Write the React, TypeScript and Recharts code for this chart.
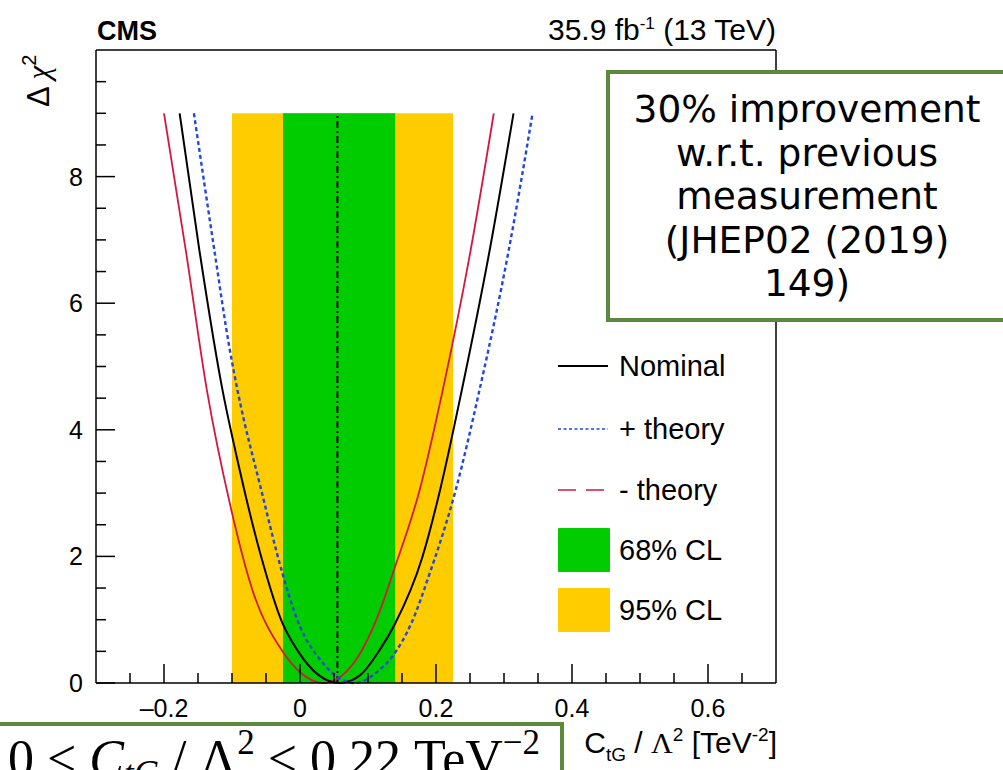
import { LineChart, Line, XAxis, YAxis, ReferenceArea, ReferenceLine } from "recharts";

// Δχ² scan points: [C_tG/Λ², Δχ²]
const NOMINAL: [number, number][] = [
  [-0.177, 9.0], [-0.148, 6.84], [-0.114, 4.63], [-0.093, 3.57], [-0.057, 1.99],
  [-0.026, 0.95], [-0.004, 0.52], [0.028, 0.12], [0.058, 0.0], [0.088, 0.12],
  [0.117, 0.52], [0.139, 0.92], [0.18, 1.99], [0.206, 3.05], [0.238, 4.63],
  [0.279, 6.84], [0.314, 9.0],
];
const PLUS_THEORY: [number, number][] = [
  [-0.156, 9.0], [-0.126, 6.84], [-0.104, 5.31], [-0.092, 4.63], [-0.057, 3.05],
  [-0.026, 1.74], [-0.004, 1.0], [0.035, 0.3], [0.08, 0.0], [0.116, 0.2],
  [0.135, 0.41], [0.164, 0.95], [0.191, 1.74], [0.229, 3.05], [0.264, 4.63],
  [0.307, 6.84], [0.342, 9.0],
];
const MINUS_THEORY: [number, number][] = [
  [-0.2, 9.0], [-0.168, 6.84], [-0.137, 4.63], [-0.102, 2.78], [-0.07, 1.47],
  [-0.027, 0.52], [0.0, 0.17], [0.035, 0.0], [0.075, 0.26], [0.116, 1.1],
  [0.138, 1.78], [0.176, 3.05], [0.21, 4.63], [0.251, 6.84], [0.285, 9.0],
];

const CL68 = [-0.025, 0.14];
const CL95 = [-0.1, 0.225];
const BEST_FIT = 0.055;
const BAND_TOP = 9;

const X_TICKS = [-0.25, -0.2, -0.15, -0.1, -0.05, 0, 0.05, 0.1, 0.15, 0.2, 0.25, 0.3, 0.35, 0.4, 0.45, 0.5, 0.55, 0.6, 0.65];
const X_LABELS = [-0.2, 0, 0.2, 0.4, 0.6];
const Y_TICKS = [0, 0.5, 1, 1.5, 2, 2.5, 3, 3.5, 4, 4.5, 5, 5.5, 6, 6.5, 7, 7.5, 8, 8.5, 9, 9.5];
const Y_LABELS = [0, 2, 4, 6, 8];

const NOTE_LINES = ["30% improvement", "w.r.t. previous", "measurement", "(JHEP02 (2019)", "149)"];

const FONT = "'Liberation Sans', Arial, Helvetica, sans-serif";
const SERIF = "'Liberation Serif', 'Times New Roman', serif";
const BOX_GREEN = "#5b8a3c";

const toPoints = (arr: [number, number][]) => arr.map(([x, y]) => ({ x, y }));
const fmt = (v: number) => (v < 0 ? "\u2013" + Math.abs(v) : String(v));

const BottomTick = (p: any) => {
  const v = p.payload.value;
  const major = X_LABELS.includes(v);
  return (
    <g>
      <line x1={p.x} y1={p.y} x2={p.x} y2={p.y - (major ? 19 : 10)} stroke="#000" strokeWidth={1.5} />
      {major && (
        <text x={p.x} y={p.y + 34} textAnchor="middle" fontSize={25} fontFamily={FONT} fill="#000">
          {fmt(v)}
        </text>
      )}
    </g>
  );
};

const TopTick = (p: any) => {
  const major = X_LABELS.includes(p.payload.value);
  return <line x1={p.x} y1={p.y} x2={p.x} y2={p.y + (major ? 19 : 10)} stroke="#000" strokeWidth={1.5} />;
};

const LeftTick = (p: any) => {
  const v = p.payload.value;
  const major = Y_LABELS.includes(v);
  return (
    <g>
      <line x1={p.x} y1={p.y} x2={p.x + (major ? 19 : 10)} y2={p.y} stroke="#000" strokeWidth={1.5} />
      {major && (
        <text x={p.x - 13} y={p.y + 9} textAnchor="end" fontSize={25} fontFamily={FONT} fill="#000">
          {v}
        </text>
      )}
    </g>
  );
};

const RightTick = (p: any) => {
  const major = Y_LABELS.includes(p.payload.value);
  return <line x1={p.x} y1={p.y} x2={p.x - (major ? 19 : 10)} y2={p.y} stroke="#000" strokeWidth={1.5} />;
};

const axisLine = { stroke: "#000", strokeWidth: 1.5 };

const Legend = () => {
  const rows = [366, 429, 490, 550, 610];
  return (
    <g fontFamily={FONT} fontSize={29} fill="#000">
      <line x1={558} x2={608} y1={rows[0]} y2={rows[0]} stroke="#000" strokeWidth={2} />
      <text x={619} y={rows[0] + 10}>Nominal</text>
      <line x1={558} x2={608} y1={rows[1]} y2={rows[1]} stroke="#2246e0" strokeWidth={1.6} strokeDasharray="3 2.5" />
      <text x={619} y={rows[1] + 10}>+ theory</text>
      <line x1={558} x2={608} y1={rows[2]} y2={rows[2]} stroke="#d4183d" strokeWidth={1.6} strokeDasharray="18 10" />
      <text x={619} y={rows[2] + 10}>- theory</text>
      <rect x={558} y={rows[3] - 22} width={52} height={44} rx={1} fill="#00cc00" />
      <text x={619} y={rows[3] + 10}>68% CL</text>
      <rect x={558} y={rows[4] - 22} width={52} height={44} rx={1} fill="#ffcc00" />
      <text x={619} y={rows[4] + 10}>95% CL</text>
    </g>
  );
};

export default function App() {
  return (
    <div style={{ position: "fixed", left: 0, top: 0, width: 1003, height: 770, overflow: "hidden", background: "#fff" }}>
      <LineChart width={1003} height={770} margin={{ top: 49, right: 226, bottom: 47, left: 46 }}>
        <XAxis
          type="number"
          dataKey="x"
          domain={[-0.3, 0.7]}
          ticks={X_TICKS}
          interval={0}
          tickSize={0}
          tickMargin={0}
          tickLine={false}
          tick={(p: any) => <BottomTick {...p} />}
          axisLine={axisLine}
          height={40}
        />
        <XAxis
          xAxisId="top"
          orientation="top"
          type="number"
          domain={[-0.3, 0.7]}
          ticks={X_TICKS}
          interval={0}
          tickSize={0}
          tickMargin={0}
          tickLine={false}
          tick={(p: any) => <TopTick {...p} />}
          axisLine={axisLine}
          height={1}
        />
        <YAxis
          type="number"
          domain={[0, 10]}
          ticks={Y_TICKS}
          interval={0}
          tickSize={0}
          tickMargin={0}
          tickLine={false}
          tick={(p: any) => <LeftTick {...p} />}
          axisLine={axisLine}
          width={50}
        />
        <YAxis
          yAxisId="right"
          orientation="right"
          type="number"
          domain={[0, 10]}
          ticks={Y_TICKS}
          interval={0}
          tickSize={0}
          tickMargin={0}
          tickLine={false}
          tick={(p: any) => <RightTick {...p} />}
          axisLine={axisLine}
          width={1}
        />
        <ReferenceArea x1={CL95[0]} x2={CL95[1]} y1={0} y2={BAND_TOP} fill="#ffcc00" fillOpacity={1} stroke="none" />
        <ReferenceArea x1={CL68[0]} x2={CL68[1]} y1={0} y2={BAND_TOP} fill="#00cc00" fillOpacity={1} stroke="none" />
        <ReferenceLine
          segment={[{ x: BEST_FIT, y: 0 }, { x: BEST_FIT, y: BAND_TOP }]}
          stroke="#000"
          strokeWidth={2}
          strokeDasharray="7 3 2 3"
        />
        <Line data={toPoints(MINUS_THEORY)} dataKey="y" type="monotone" stroke="#d4183d" strokeWidth={1.8} dot={false} isAnimationActive={false} />
        <Line data={toPoints(NOMINAL)} dataKey="y" type="monotone" stroke="#000" strokeWidth={2} dot={false} isAnimationActive={false} />
        <Line data={toPoints(PLUS_THEORY)} dataKey="y" type="monotone" stroke="#2246e0" strokeWidth={2.4} strokeDasharray="4 3" dot={false} isAnimationActive={false} />
      </LineChart>

      <svg width={1003} height={770} style={{ position: "absolute", left: 0, top: 0, pointerEvents: "none" }}>
        <text x={97} y={40} fontFamily={FONT} fontWeight="bold" fontSize={27}>CMS</text>
        <text x={776} y={40} textAnchor="end" fontFamily={FONT} fontSize={30}>
          35.9 fb<tspan dy={-11} fontSize={17}>-1</tspan>
          <tspan dy={11}> (13 TeV)</tspan>
        </text>
        <text transform="translate(49,107) rotate(-90)" fontFamily={FONT} fontSize={31}>
          Δ <tspan fontFamily={SERIF} fontStyle="italic">χ</tspan>
          <tspan dy={-13} fontSize={20}>2</tspan>
        </text>
        <text x={777} y={753} textAnchor="end" fontFamily={FONT} fontSize={30}>
          C<tspan dy={8} fontSize={19}>tG</tspan>
          <tspan dy={-8}> / </tspan>
          <tspan fontFamily={SERIF}>Λ</tspan>
          <tspan dy={-12} fontSize={19}>2</tspan>
          <tspan dy={12}> [TeV</tspan>
          <tspan dy={-12} fontSize={19}>-2</tspan>
          <tspan dy={12}>]</tspan>
        </text>
        <Legend />

        <rect x={608} y={72} width={404} height={248} fill="#fff" stroke={BOX_GREEN} strokeWidth={4} />
        {NOTE_LINES.map((t, i) => (
          <text key={t} x={807} y={122 + i * 43.5} textAnchor="middle" fontFamily="'DejaVu Sans', Verdana, sans-serif" fontSize={37.5} fill="#000">
            {t}
          </text>
        ))}

        <rect x={-10} y={724} width={572} height={80} fill="#fff" stroke={BOX_GREEN} strokeWidth={4} />
        <text x={8} y={776} fontFamily={SERIF} fontSize={52} fill="#000">
          0 &lt; <tspan fontStyle="italic">C</tspan>
          <tspan dy={9} fontSize={35} fontStyle="italic">tG</tspan>
          <tspan dy={-9}> / Λ</tspan>
          <tspan dy={-22} fontSize={35}>2</tspan>
          <tspan dy={22}> &lt; 0.22 TeV</tspan>
          <tspan dy={-22} fontSize={35}>−2</tspan>
        </text>
      </svg>
    </div>
  );
}
